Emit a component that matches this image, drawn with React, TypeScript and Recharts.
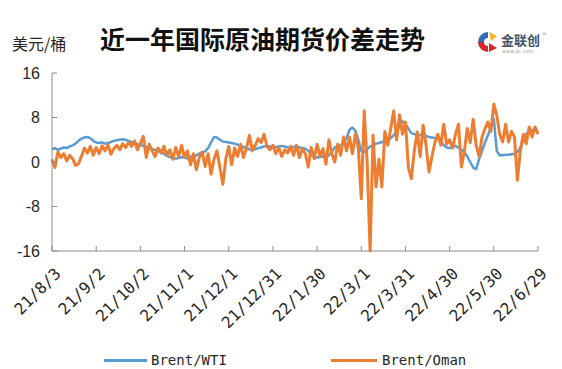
import React from 'react';
import { LineChart, Line, XAxis, YAxis } from 'recharts';

// day offsets from 21/8/3, one point every 2 days
const startDay = 0;
const stepDays = 2;

const tickDays = [0, 30, 60, 90, 120, 150, 180, 210, 240, 270, 300, 330];
const tickLabels = [
  '21/8/3', '21/9/2', '21/10/2', '21/11/1', '21/12/1', '21/12/31',
  '22/1/30', '22/3/1', '22/3/31', '22/4/30', '22/5/30', '22/6/29',
];
const yTicks = [-16, -8, 0, 8, 16];

const brentWti = [
  2.3, 2.5, 2.2, 2.4, 2.6, 2.5, 2.8, 3.0, 3.3, 3.8,
  4.2, 4.4, 4.5, 4.3, 3.8, 3.5, 3.4, 3.5, 3.3, 3.4,
  3.6, 3.8, 3.9, 4.0, 4.1, 4.0, 3.8, 3.6, 3.4, 3.2,
  3.0, 2.9, 2.7, 2.5, 2.3, 2.2, 2.0, 1.8, 1.5, 1.1,
  0.9, 0.8, 0.6, 0.7, 0.9, 0.8, 0.6, 0.9, 1.0, 1.2,
  1.5, 1.7, 1.9, 2.5, 3.5, 4.5, 4.4, 4.0, 3.7, 3.6,
  3.5, 3.4, 3.3, 3.1, 2.9, 2.7, 2.5, 2.3, 2.2, 2.3,
  2.5, 2.6, 2.8, 2.9, 2.8, 2.7, 2.7, 2.8, 2.9, 2.8,
  2.6, 2.6, 2.7, 2.8, 2.6, 2.5, 2.4, 2.0, 1.3, 0.8,
  0.8, 0.9, 1.0, 0.9, 1.2, 1.8, 2.6, 2.8, 3.0, 3.5,
  4.3, 5.8, 6.2, 5.6, 4.0, 2.0, 1.8, 2.3, 2.8, 3.0,
  3.3, 3.4, 3.6, 3.8, 4.0, 4.3, 4.8, 5.5, 6.5, 7.3,
  6.8, 6.0, 5.2, 5.0, 4.9, 4.8, 4.9, 4.7, 4.5, 4.4,
  4.3, 4.1, 3.8, 3.0, 2.6, 2.5, 2.7, 2.9, 2.6, 2.2,
  1.8, 1.0, 0.0, -1.0, -1.3, 0.5, 2.0, 3.5, 4.8, 6.2,
  7.8, 2.0, 1.2, 1.2, 1.3, 1.3, 1.4, 1.5, 1.8, 2.5,
  4.0, 5.0, 5.5, 5.8, 5.8, 5.6,
];

const brentOman = [
  0.5, -1.0, 1.8, 0.8, 1.5, 0.2, 1.2, 0.6, -0.6, -0.3,
  1.0, 2.5, 1.6, 2.8, 1.2, 2.6, 1.5, 2.9, 2.0, 3.1,
  1.4, 2.4, 3.0, 2.2, 3.3, 2.6, 3.5, 2.8, 3.8, 2.2,
  3.3, 4.6, 0.8, 3.2, 2.0, 1.0, 2.5, 1.6, 2.8, 1.2,
  2.2, 0.5, 2.6, 1.0, 3.0, 0.8, 2.0, -0.5, 1.5, -1.4,
  0.8, 1.8, -0.8, 1.5, -2.2, 0.5, 2.0, -1.0, -4.0, 0.5,
  2.8, -0.5, 2.5, 1.0, 3.2, 0.8, 2.4, 4.8, 2.0, 3.0,
  4.2, 3.5, 5.0, 2.8, 2.2, 3.0, 1.5, 2.6, 1.0, 2.2,
  1.6, 2.8, 1.2, 3.0, 0.8, 2.4, 1.5, -0.9, 2.6, 0.6,
  3.2, 1.0, 2.4, -0.4, 4.0, 1.5, 0.0, 3.2, 1.2, 4.5,
  2.0, 4.5, 1.5, 5.0, 2.5, -6.6, 9.2, 0.0, -16, 4.8,
  -4.5, 0.5, -4.5, 5.5, 3.0, 6.0, 9.2, 4.0, 8.5, 5.0,
  7.2, -1.0, -3.0, 2.0, 5.4, 1.0, 6.6, 3.0, -1.8, 1.0,
  3.5, 5.0, 3.0, 6.8, 3.2, 4.0, 2.5, 5.0, 6.8, -0.9,
  2.0, 6.0, 3.5, 7.7, 3.0, 1.0, 4.5, 6.0, 7.2, 5.5,
  10.4, 8.4, 5.0, 3.6, 6.8, 3.6, 5.5, 4.5, -3.3, 2.0,
  5.0, 3.3, 6.3, 4.5, 6.3, 5.0,
];

const data = brentWti.map((v, i) => ({
  day: startDay + i * stepDays,
  wti: v,
  oman: brentOman[i],
}));

const BLUE = '#5b9bd5';
const ORANGE = '#ed7d31';
const AXIS = '#8c8c8c';
const TEXT = '#262626';

const XTick = (props: any) => {
  const { x, y, payload } = props;
  const idx = tickDays.indexOf(payload.value);
  const ax = x + 2;
  const ay = y + 11;
  return (
    <text
      x={ax}
      y={ay}
      dy={11}
      transform={`rotate(-45, ${ax}, ${ay})`}
      textAnchor="end"
      fontSize={16}
      fontFamily="DejaVu Sans Mono"
      fill={TEXT}
    >
      {tickLabels[idx]}
    </text>
  );
};

const Logo = () => (
  <svg width={80} height={30} viewBox="0 0 80 30">
    <path d="M3 15 A10 10 0 0 1 13 5 L13 11 A4 4 0 0 0 9 15 Z" fill="#2f6db5" />
    <path d="M9 15 A4 4 0 0 0 13 19 L13 25 A10 10 0 0 1 3 15 Z" fill="#d7262c" />
    <path d="M14 5 L22 9 L16 14 Z" fill="#f3b32a" />
    <path d="M14 16 L22 21 L14 25 Z" fill="#d7262c" />
    <text x={26} y={18} fontSize={13} fontFamily="Noto Sans CJK SC" fontWeight="bold" fill="#4a5563">金联创</text>
    <text x={67} y={9} fontSize={6} fill="#777">®</text>
    <text x={27} y={26} fontSize={5} fontFamily="DejaVu Sans" fill="#999">www.jlc.com</text>
  </svg>
);

export default function App() {
  return (
    <div style={{ position: 'absolute', left: 0, top: 0, width: 562, height: 369, background: '#fff' }}>
      <div
        style={{
          position: 'absolute', left: 100, top: 24, width: 325, textAlign: 'center',
          fontFamily: 'Noto Sans CJK SC', fontWeight: 'bold', fontSize: 25, lineHeight: '28px', color: '#111',
        }}
      >
        近一年国际原油期货价差走势
      </div>
      <div
        style={{
          position: 'absolute', left: 12, top: 34, fontFamily: 'Noto Sans CJK SC', fontSize: 16,
          lineHeight: '18px', color: TEXT,
        }}
      >
        美元/桶
      </div>
      <div style={{ position: 'absolute', left: 475, top: 27 }}>
        <Logo />
      </div>

      <LineChart
        width={562}
        height={369}
        data={data}
        margin={{ top: 73, right: 24, left: 0, bottom: 48 }}
      >
        <XAxis
          dataKey="day"
          type="number"
          domain={[0, 330]}
          ticks={tickDays}
          interval={0}
          height={70}
          stroke={AXIS}
          tickSize={-5}
          tickMargin={10}
          tick={<XTick />}
        />
        <YAxis
          type="number"
          domain={[-16, 16]}
          ticks={yTicks}
          width={52}
          stroke={AXIS}
          tickSize={-5}
          tickMargin={17}
          tick={{ fontSize: 16, fontFamily: 'Liberation Sans', fill: TEXT }}
        />
        <Line
          dataKey="wti"
          stroke={BLUE}
          strokeWidth={2.5}
          dot={false}
          isAnimationActive={false}
          strokeLinejoin="round"
        />
        <Line
          dataKey="oman"
          stroke={ORANGE}
          strokeWidth={3}
          dot={false}
          isAnimationActive={false}
          strokeLinejoin="round"
        />
      </LineChart>

      <div
        style={{
          position: 'absolute', left: 104, top: 352, display: 'flex', alignItems: 'center',
          fontFamily: 'DejaVu Sans Mono', fontSize: 14, color: TEXT,
        }}
      >
        <span style={{ display: 'inline-block', width: 43, height: 3, background: BLUE, marginRight: 4 }} />
        <span style={{ width: 180 }}>Brent/WTI</span>
        <span style={{ display: 'inline-block', width: 46, height: 3, background: ORANGE, marginRight: 5 }} />
        <span>Brent/Oman</span>
      </div>
    </div>
  );
}
